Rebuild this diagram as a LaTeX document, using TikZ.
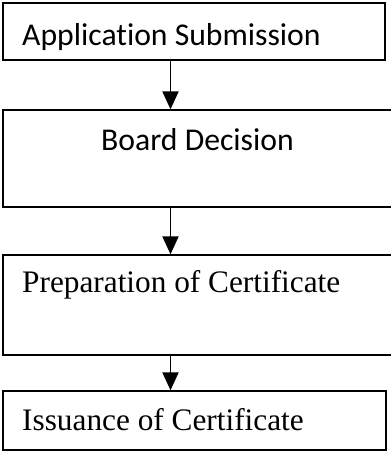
\documentclass[tikz,border=0pt]{standalone}
\usepackage{fontspec}
\setmainfont{Liberation Serif}
\newfontfamily\calib[Ligatures=NoCommon]{Carlito}
\usetikzlibrary{arrows.meta}
\tikzset{
  box/.style={draw,line width=1.3pt,rectangle,inner sep=0pt},
  boxtxt/.style={inner sep=0pt,font=\fontsize{31.3}{36}\selectfont},
  sanstxt/.style={boxtxt,font=\fontsize{31.7}{36}\selectfont\calib},
  flow/.style={->,line width=1.9pt}
}
\begin{document}
\begin{tikzpicture}[x=1pt,y=-1pt,>={Triangle[length=18pt,width=16pt]}]
\useasboundingbox (0,0) rectangle (391,453);
% boxes
\node[box,minimum width=382pt,minimum height=57pt]  (b1) at (194,31.5) {};
\node[box,minimum width=390pt,minimum height=97pt]  (b2) at (198,158.5) {};
\node[box,minimum width=390pt,minimum height=100pt] (b3) at (198,305) {};
\node[box,minimum width=383pt,minimum height=59pt]  (b4) at (194.5,420.5) {};
% texts
\node[sanstxt,anchor=base west] (t1) at (22,45) {Application Submission};
\node[sanstxt,anchor=base] (t2) at (197.5,150) {Board Decision};
\node[boxtxt,anchor=base west] (t3) at (22,292) {Preparation of Certificate};
\node[boxtxt,anchor=base west] (t4) at (22,430) {Issuance of Certificate};
% arrows
\coordinate (ax) at (170.5,0);
\draw[flow] (b1.south -| ax) -- (b2.north -| ax);
\draw[flow] (b2.south -| ax) -- (b3.north -| ax);
\draw[flow] (b3.south -| ax) -- (b4.north -| ax);
\end{tikzpicture}
\end{document}
